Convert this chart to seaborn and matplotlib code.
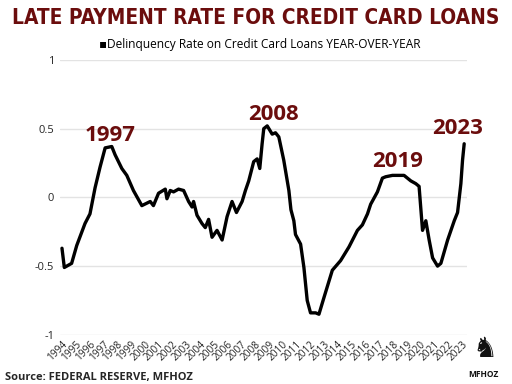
import pandas as pd
import matplotlib.pyplot as plt
import seaborn as sns

# Traced values (year, YoY delinquency rate change)
years = [1994.00, 1994.17, 1994.70, 1995.07, 1995.67, 1996.03, 1996.40, 1996.76,
         1997.13, 1997.61, 1997.85, 1998.34, 1998.70, 1999.18, 1999.79, 2000.40,
         2000.63, 2001.00, 2001.49, 2001.61, 2001.85, 2002.09, 2002.45, 2002.82,
         2003.18, 2003.43, 2003.54, 2003.79, 2004.15, 2004.39, 2004.63, 2004.88,
         2005.24, 2005.61, 2005.97, 2006.33, 2006.65, 2007.06, 2007.30, 2007.54,
         2007.90, 2008.15, 2008.34, 2008.51, 2008.63, 2008.88, 2009.24, 2009.48,
         2009.72, 2010.08, 2010.45, 2010.60, 2010.81, 2010.93, 2011.30, 2011.54,
         2011.78, 2012.02, 2012.39, 2012.63, 2012.99, 2013.60, 2014.20, 2014.81,
         2015.42, 2015.78, 2016.15, 2016.38, 2016.87, 2017.23, 2017.47, 2017.96,
         2018.80, 2019.29, 2019.65, 2019.89, 2020.14, 2020.38, 2020.62, 2020.87,
         2021.23, 2021.47, 2021.96, 2022.44, 2022.68, 2022.92, 2023.04, 2023.16]
rates = [-0.37, -0.51, -0.48, -0.35, -0.19, -0.12, 0.07, 0.22,
         0.36, 0.37, 0.31, 0.21, 0.16, 0.05, -0.06, -0.03,
         -0.06, 0.03, 0.06, -0.01, 0.05, 0.04, 0.06, 0.05,
         -0.03, -0.07, -0.03, -0.13, -0.19, -0.22, -0.16, -0.29,
         -0.24, -0.31, -0.14, -0.03, -0.11, -0.03, 0.05, 0.12,
         0.26, 0.28, 0.21, 0.39, 0.50, 0.52, 0.46, 0.47,
         0.44, 0.27, 0.05, -0.09, -0.17, -0.27, -0.34, -0.51,
         -0.75, -0.84, -0.84, -0.85, -0.73, -0.53, -0.46, -0.36,
         -0.24, -0.20, -0.12, -0.05, 0.04, 0.14, 0.15, 0.16,
         0.16, 0.12, 0.10, 0.08, -0.24, -0.17, -0.31, -0.44,
         -0.50, -0.48, -0.31, -0.17, -0.11, 0.10, 0.27, 0.39]

tick_years = list(range(1994, 2024))
peak_labels = ['1997', '2008', '2019', '2023']
peak_x = [1997.49, 2009.33, 2018.35, 2022.71]
peak_y = [0.45, 0.60, 0.26, 0.50]

df = pd.DataFrame({'year': years, 'rate': rates})

sns.set_style('white')
plt.rcParams['font.family'] = ['Open Sans', 'DejaVu Sans']

dark_red = '#6b0d0d'

fig = plt.figure(figsize=(5.12, 3.84), dpi=100)
ax = fig.add_axes([0.117, 0.128, 0.795, 0.716])

sns.lineplot(data=df, x='year', y='rate', color='black', linewidth=2.4, ax=ax)

ax.set_xlim(1993.85, 2023.36)
ax.set_ylim(-1, 1)
ax.set_yticks([-1, -0.5, 0, 0.5, 1])
ax.set_yticklabels(['-1', '-0.5', '0', '0.5', '1'], fontsize=8)
ax.set_xticks(tick_years)
ax.set_xticklabels([str(y) for y in tick_years], rotation=45, ha='right',
                   rotation_mode='anchor', fontsize=7.3)
ax.tick_params(axis='both', length=0, pad=4)
ax.tick_params(axis='x', pad=3)
ax.grid(axis='y', color='#e3e3e3', linewidth=1)
ax.grid(axis='x', visible=False)
for s in ax.spines.values():
    s.set_visible(False)
ax.set_xlabel('')
ax.set_ylabel('')

# Peak labels
for lbl, px, py in zip(peak_labels, peak_x, peak_y):
    ax.text(px, py, lbl, color=dark_red, fontsize=16, fontweight='bold',
            ha='center', va='center')

# Title: shrink the font until it spans the same width as the original
title = fig.text(0.5, 0.953, 'LATE PAYMENT RATE FOR CREDIT CARD LOANS',
                 family=['DejaVu Sans'], fontweight='bold', fontstretch='condensed',
                 fontsize=22, color=dark_red, ha='center', va='center')
renderer = fig.canvas.get_renderer()
w = title.get_window_extent(renderer).width
title.set_fontsize(22 * 485 / w)

fig.text(0.508, 0.885, '\u25aaDelinquency Rate on Credit Card Loans YEAR-OVER-YEAR',
         fontsize=8.6, color='black', ha='center', va='center')

# Source and logo
fig.text(0.01, 0.017, 'Source: FEDERAL RESERVE, MFHOZ', fontsize=8,
         fontweight='bold', ha='left', va='center')
fig.text(0.948, 0.09, '\u265e', family=['DejaVu Sans'], fontsize=20,
         ha='center', va='center', color='#111111')
fig.text(0.945, 0.025, 'MFHOZ', fontsize=6, fontweight='bold',
         ha='center', va='center', color='#111111')

fig.savefig('out.png', dpi=100)
